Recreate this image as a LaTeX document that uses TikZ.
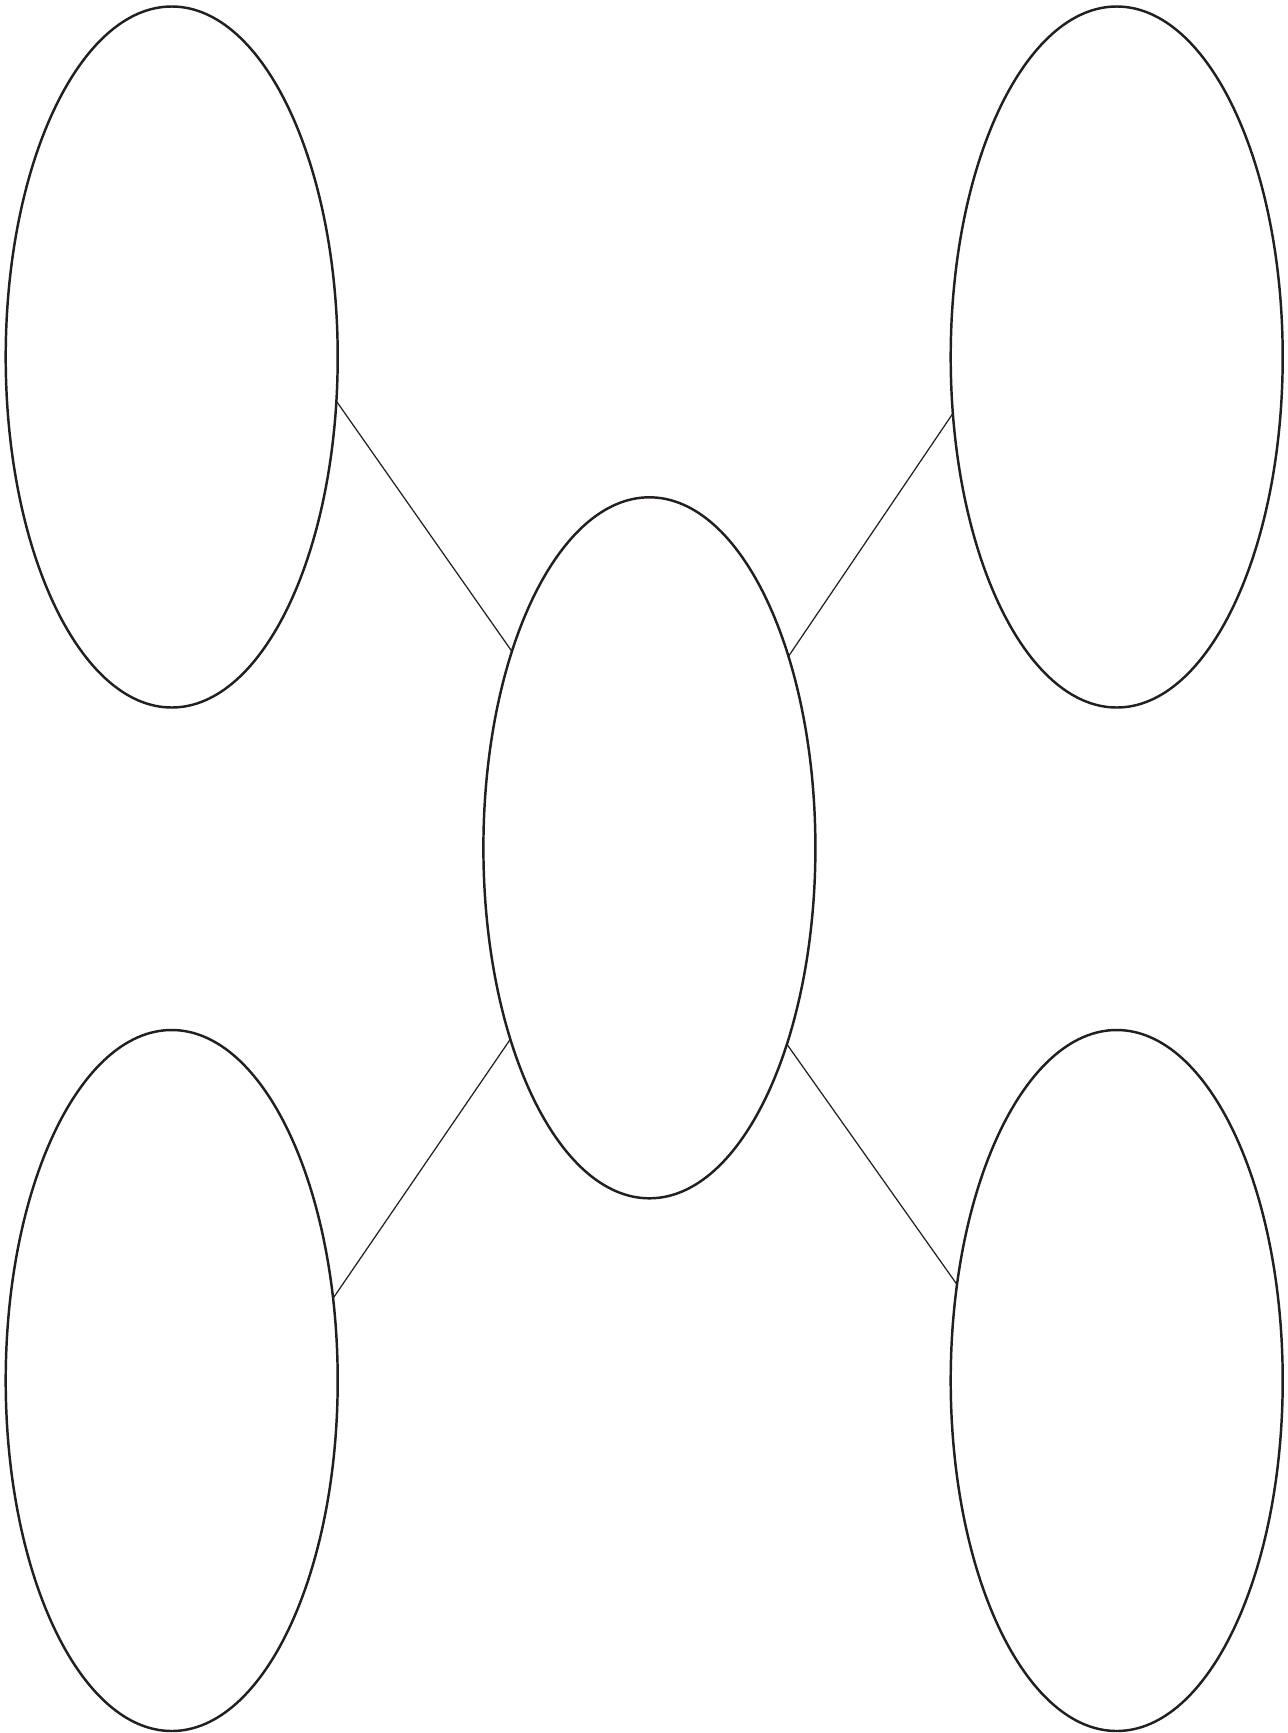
\documentclass[tikz,border=0pt]{standalone}
\usepackage{tikz}
\usetikzlibrary{shapes.geometric, positioning, calc}
\definecolor{inkgray}{HTML}{231F20}

\begin{document}
\begin{tikzpicture}[
    bubble/.style={draw=inkgray, ellipse, minimum width=6.64cm, minimum height=14.02cm, inner sep=0pt, outer sep=0pt, line width=1.4pt},
    link/.style={draw=inkgray, line width=0.7pt}
]
    \useasboundingbox (0,0) rectangle (25.76,-34.66);

    \node[bubble] (hub) at (12.988,-16.956) {};
    \node[bubble] (topleft) at (3.434,-7.14) {};
    \node[bubble] (topright) at (22.334,-7.14) {};
    \node[bubble] (botleft) at (3.434,-27.61) {};
    \node[bubble] (botright) at (22.334,-27.61) {};

    \draw[link] (hub.125) -- (topleft.-15.6);
    \draw[link] (hub.54.8) -- (topright.199.7);
    \draw[link] (hub.234.6) -- (botleft.27.7);
    \draw[link] (hub.305.1) -- (botright.149.2);
\end{tikzpicture}
\end{document}
